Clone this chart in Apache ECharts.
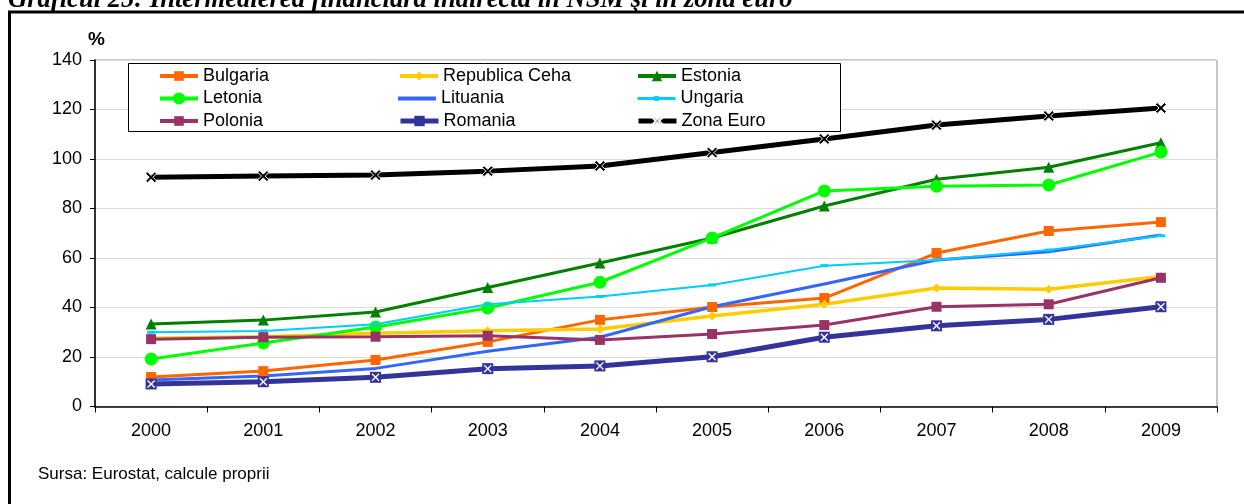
<!DOCTYPE html>
<html>
<head>
<meta charset="utf-8">
<title>Intermedierea financiară indirectă</title>
<script src="https://cdn.jsdelivr.net/npm/echarts@6/dist/echarts.min.js"></script>
<style>
  html, body { margin: 0; padding: 0; background: #ffffff; }
  #chart { width: 1244px; height: 504px; }
</style>
</head>
<body>
<div id="chart"></div>
<script>
// Years on the category axis
const years = ['2000', '2001', '2002', '2003', '2004', '2005', '2006', '2007', '2008', '2009'];

// Indirect financial intermediation, % of GDP
const bulgaria = [11.9, 14.3, 18.8, 26.1, 35.0, 40.2, 43.8, 62.0, 70.9, 74.5];
const republicaCeha = [27.6, 28.2, 29.6, 30.6, 31.3, 36.6, 41.3, 47.9, 47.4, 52.5];
const estonia = [33.3, 34.9, 38.2, 48.1, 58.0, 68.1, 81.0, 91.8, 96.7, 106.6];
const letonia = [19.2, 25.7, 32.1, 39.8, 50.2, 68.1, 87.1, 89.0, 89.5, 102.8];
const lituania = [10.7, 12.3, 15.4, 22.3, 28.0, 40.3, 49.5, 59.2, 62.5, 69.3];
const ungaria = [30.0, 30.5, 33.2, 41.3, 44.4, 49.1, 56.9, 59.2, 63.2, 69.0];
const polonia = [27.2, 28.0, 28.2, 28.6, 26.9, 29.3, 32.9, 40.3, 41.3, 52.0];
const romania = [9.1, 10.0, 11.8, 15.3, 16.4, 20.1, 28.0, 32.6, 35.2, 40.3];
const zonaEuro = [92.6, 93.1, 93.5, 95.1, 97.2, 102.6, 108.1, 113.7, 117.4, 120.6];

// Y axis ticks
const yMin = 0, yMax = 140, yStep = 20;

const FONT = 'Liberation Sans, Arial, sans-serif';
const X_PATH = 'path://M0,1.7L1.7,0L5,3.3L8.3,0L10,1.7L6.7,5L10,8.3L8.3,10L5,6.7L1.7,10L0,8.3L3.3,5Z';
const X_THIN = 'path://M0,1.2L1.2,0L5,3.8L8.8,0L10,1.2L6.2,5L10,8.8L8.8,10L5,6.2L1.2,10L0,8.8L3.8,5Z';

function lineSeries(name, data, color, width, symbol, size, extra) {
  return Object.assign({
    name: name,
    type: 'line',
    data: data,
    symbol: symbol,
    symbolSize: size,
    showAllSymbol: true,
    lineStyle: { color: color, width: width },
    itemStyle: { color: color },
    emphasis: { disabled: true }
  }, extra || {});
}

const series = [
  lineSeries('Bulgaria', bulgaria, '#FF6600', 3, 'rect', 10),
  lineSeries('Republica Ceha', republicaCeha, '#FFCC00', 3.5, 'diamond', 9),
  lineSeries('Estonia', estonia, '#008000', 3, 'triangle', 11),
  lineSeries('Letonia', letonia, '#00FF00', 3, 'circle', 13),
  lineSeries('Lituania', lituania, '#3366FF', 3, 'none', 0),
  lineSeries('Ungaria', ungaria, '#00CCFF', 2, 'rect', [8, 3]),
  lineSeries('Polonia', polonia, '#993366', 3, 'rect', 10),
  lineSeries('Romania', romania, '#333399', 5, 'rect', 11),
  // white cross drawn on each Romania marker
  lineSeries('Romania-x', romania, '#ffffff', 0, X_THIN, 8, {
    lineStyle: { width: 0, opacity: 0 }, silent: true
  }),
  lineSeries('Zona Euro', zonaEuro, '#000000', 5, X_PATH, 11, {
    itemStyle: { color: '#000000', borderColor: '#ffffff', borderWidth: 1 }
  })
];

// One legend block per entry, laid out in three columns and three rows
const legendCols = [158, 398, 636];
const legendRows = [76, 98.5, 121];
// name, column, row, icon height, line width
const legendEntries = [
  ['Bulgaria', 0, 0, 12, 4], ['Republica Ceha', 1, 0, 11, 4], ['Estonia', 2, 0, 13, 4],
  ['Letonia', 0, 1, 15, 4], ['Lituania', 1, 1, 4, 4], ['Ungaria', 2, 1, 6, 3],
  ['Polonia', 0, 2, 12, 4], ['Romania', 1, 2, 13, 5], ['Zona Euro', 2, 2, 12, 5]
];
const legends = legendEntries.map(function (e) {
  const name = e[0], col = e[1], row = e[2], h = e[3], lw = e[4];
  const item = name === 'Lituania' ? { name: name, icon: 'rect' } : { name: name };
  return {
    data: [item],
    left: legendCols[col],
    top: legendRows[row] - Math.max(h, 18) / 2,
    itemWidth: 38,
    itemHeight: h,
    symbolKeepAspect: name !== 'Lituania',
    padding: 0,
    selectedMode: false,
    lineStyle: { width: lw },
    textStyle: { fontFamily: FONT, fontSize: 18, color: '#000000' },
    z: 6
  };
});

const chart = echarts.init(document.getElementById('chart'), null, { renderer: 'canvas' });
chart.setOption({
  animation: false,
  backgroundColor: '#ffffff',
  grid: {
    left: 95, right: 27, top: 60, bottom: 97.5,
    show: true, borderColor: '#8c8c8c', borderWidth: 1
  },
  legend: legends,
  xAxis: {
    type: 'category',
    data: years,
    boundaryGap: true,
    axisLine: { lineStyle: { color: '#000000', width: 1.5 } },
    axisTick: { show: true, length: 6, lineStyle: { color: '#000000' } },
    axisLabel: { fontFamily: FONT, fontSize: 18, color: '#000000', margin: 16 },
    splitLine: { show: false }
  },
  yAxis: {
    type: 'value',
    min: yMin, max: yMax, interval: yStep,
    axisLine: { show: true, lineStyle: { color: '#000000', width: 1.5 } },
    axisTick: { show: true, length: 5, lineStyle: { color: '#000000' } },
    axisLabel: { fontFamily: FONT, fontSize: 18, color: '#000000', margin: 13 },
    splitLine: { lineStyle: { color: '#dcdcdc', width: 1 } }
  },
  series: series,
  graphic: [
    {
      type: 'rect', z: 1,
      shape: { x: 9.5, y: 12, width: 1400, height: 700 },
      style: { fill: 'none', stroke: '#000000', lineWidth: 3 },
      silent: true
    },
    {
      type: 'text', z: 10, left: 8, top: -13,
      style: {
        text: 'Graficul 25: Intermedierea financiară indirectă în NSM şi în zona euro',
        font: 'italic bold 26.6px "Liberation Serif", "Times New Roman", serif',
        fill: '#000000'
      },
      silent: true
    },
    {
      type: 'rect', z: 5,
      shape: { x: 128.5, y: 63.5, width: 712, height: 68 },
      style: { fill: '#ffffff', stroke: '#000000', lineWidth: 1 },
      silent: true
    },
    {
      type: 'text', z: 10, left: 88, top: 30,
      style: { text: '%', font: 'bold 19px "Liberation Sans", Arial, sans-serif', fill: '#000000' },
      silent: true
    },
    {
      type: 'text', z: 10, left: 38, top: 466,
      style: { text: 'Sursa: Eurostat, calcule proprii', font: '17px "Liberation Sans", Arial, sans-serif', fill: '#000000' },
      silent: true
    }
  ]
});
</script>
</body>
</html>
